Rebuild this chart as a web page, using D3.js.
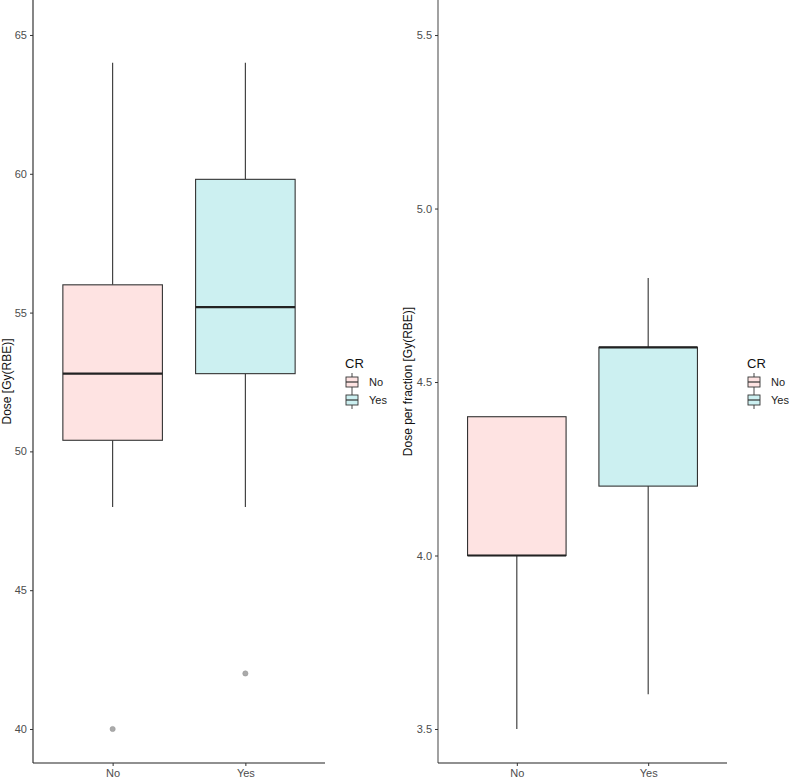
<!DOCTYPE html>
<html>
<head>
<meta charset="utf-8">
<script src="https://cdn.jsdelivr.net/npm/d3@7"></script>
<style>
  body { margin: 0; background: #fff; }
  text { font-family: "Liberation Sans", Arial, sans-serif; }
</style>
</head>
<body>
<svg id="chart" width="789" height="778"></svg>
<script>
// groups
const groups = ['No', 'Yes'];
const groupFill = ['#FEE3E2', '#CCF0F1'];

// total dose boxplot stats [low whisker, q1, median, q3, high whisker]
const doseStats = [
  [48, 50.4, 52.8, 56.0, 64],
  [48, 52.8, 55.2, 59.8, 64]
];
const doseOutliers = [[40], [42]];
const doseTicks = [40, 45, 50, 55, 60, 65];

// dose per fraction boxplot stats
const fracStats = [
  [3.5, 4.0, 4.0, 4.4, 4.4],
  [3.6, 4.2, 4.6, 4.6, 4.8]
];
const fracOutliers = [[], []];
const fracTicks = [3.5, 4.0, 4.5, 5.0, 5.5];

const svg = d3.select('#chart');

function panel(opt) {
  const g = svg.append('g');
  const x = d3.scalePoint().domain(groups).range([opt.x0, opt.x1]).padding(0.6);
  const y = d3.scaleLinear().domain(opt.domain).range([opt.bottom, 0]);
  const boxW = x.step() * 0.75;

  groups.forEach((grp, i) => {
    const s = opt.stats[i];
    const cx = x(grp);
    // whiskers
    g.append('line').attr('x1', cx).attr('x2', cx)
      .attr('y1', y(s[0])).attr('y2', y(s[1]))
      .attr('stroke', '#333').attr('stroke-width', 1.1);
    g.append('line').attr('x1', cx).attr('x2', cx)
      .attr('y1', y(s[3])).attr('y2', y(s[4]))
      .attr('stroke', '#333').attr('stroke-width', 1.1);
    // box
    g.append('rect')
      .attr('x', cx - boxW / 2).attr('width', boxW)
      .attr('y', y(s[3])).attr('height', y(s[1]) - y(s[3]))
      .attr('fill', groupFill[i]).attr('stroke', '#333').attr('stroke-width', 1.1);
    // median
    g.append('line')
      .attr('x1', cx - boxW / 2).attr('x2', cx + boxW / 2)
      .attr('y1', y(s[2])).attr('y2', y(s[2]))
      .attr('stroke', '#222').attr('stroke-width', 2.2);
    // outliers
    opt.outliers[i].forEach(v => {
      g.append('circle').attr('cx', cx).attr('cy', y(v)).attr('r', 2.6)
        .attr('fill', '#aaa').attr('stroke', '#999').attr('stroke-width', 0.6);
    });
  });

  // axes
  const ya = g.append('g').attr('transform', `translate(${opt.x0},0)`)
    .call(d3.axisLeft(y).tickValues(opt.ticks).tickSize(3).tickPadding(3)
      .tickFormat(opt.fmt));
  ya.select('.domain').attr('d', `M0,0V${opt.bottom}`).attr('stroke', opt.axisCol).attr('stroke-width', 1.1);
  ya.selectAll('.tick line').attr('stroke', '#333');
  ya.selectAll('.tick text').attr('fill', '#4d4d4d').style('font-size', '11px');

  const xa = g.append('g').attr('transform', `translate(0,${opt.bottom})`)
    .call(d3.axisBottom(x).tickSize(3).tickPadding(3));
  xa.select('.domain').attr('d', `M${opt.x0},0H${opt.x1}`).attr('stroke', '#222').attr('stroke-width', 1.1);
  xa.selectAll('.tick line').attr('stroke', '#333');
  xa.selectAll('.tick text').attr('fill', '#4d4d4d').style('font-size', '11px');

  // y title
  g.append('text')
    .attr('transform', `translate(${opt.titleX},${opt.bottom / 2}) rotate(-90)`)
    .attr('text-anchor', 'middle')
    .style('font-size', '12px').attr('fill', '#111')
    .text(opt.title);

  // legend
  const lg = g.append('g').attr('transform', `translate(${opt.legX},0)`);
  lg.append('text').attr('x', 0).attr('y', 368).style('font-size', '13px').attr('fill', '#111').text('CR');
  groups.forEach((grp, i) => {
    const ky = 382 + i * 18;
    lg.append('line').attr('x1', 7).attr('x2', 7).attr('y1', ky - 9).attr('y2', ky + 9)
      .attr('stroke', '#333').attr('stroke-width', 0.9);
    lg.append('rect').attr('x', 1).attr('y', ky - 5).attr('width', 12).attr('height', 10)
      .attr('fill', groupFill[i]).attr('stroke', '#333').attr('stroke-width', 0.9);
    lg.append('line').attr('x1', 1).attr('x2', 13).attr('y1', ky).attr('y2', ky)
      .attr('stroke', '#333').attr('stroke-width', 1.2);
    lg.append('text').attr('x', 24).attr('y', ky + 4).style('font-size', '11px')
      .attr('fill', '#222').text(grp);
  });
}

panel({
  x0: 33, x1: 325, bottom: 763,
  domain: [38.775, 66.26],
  stats: doseStats, outliers: doseOutliers, ticks: doseTicks,
  fmt: d3.format('d'), axisCol: '#222',
  title: 'Dose [Gy(RBE)]', titleX: 11, legX: 345
});

panel({
  x0: 438, x1: 727, bottom: 763,
  domain: [3.402, 5.601],
  stats: fracStats, outliers: fracOutliers, ticks: fracTicks,
  fmt: d3.format('.1f'), axisCol: '#555',
  title: 'Dose per fraction [Gy(RBE)]', titleX: 412, legX: 747
});
</script>
</body>
</html>
